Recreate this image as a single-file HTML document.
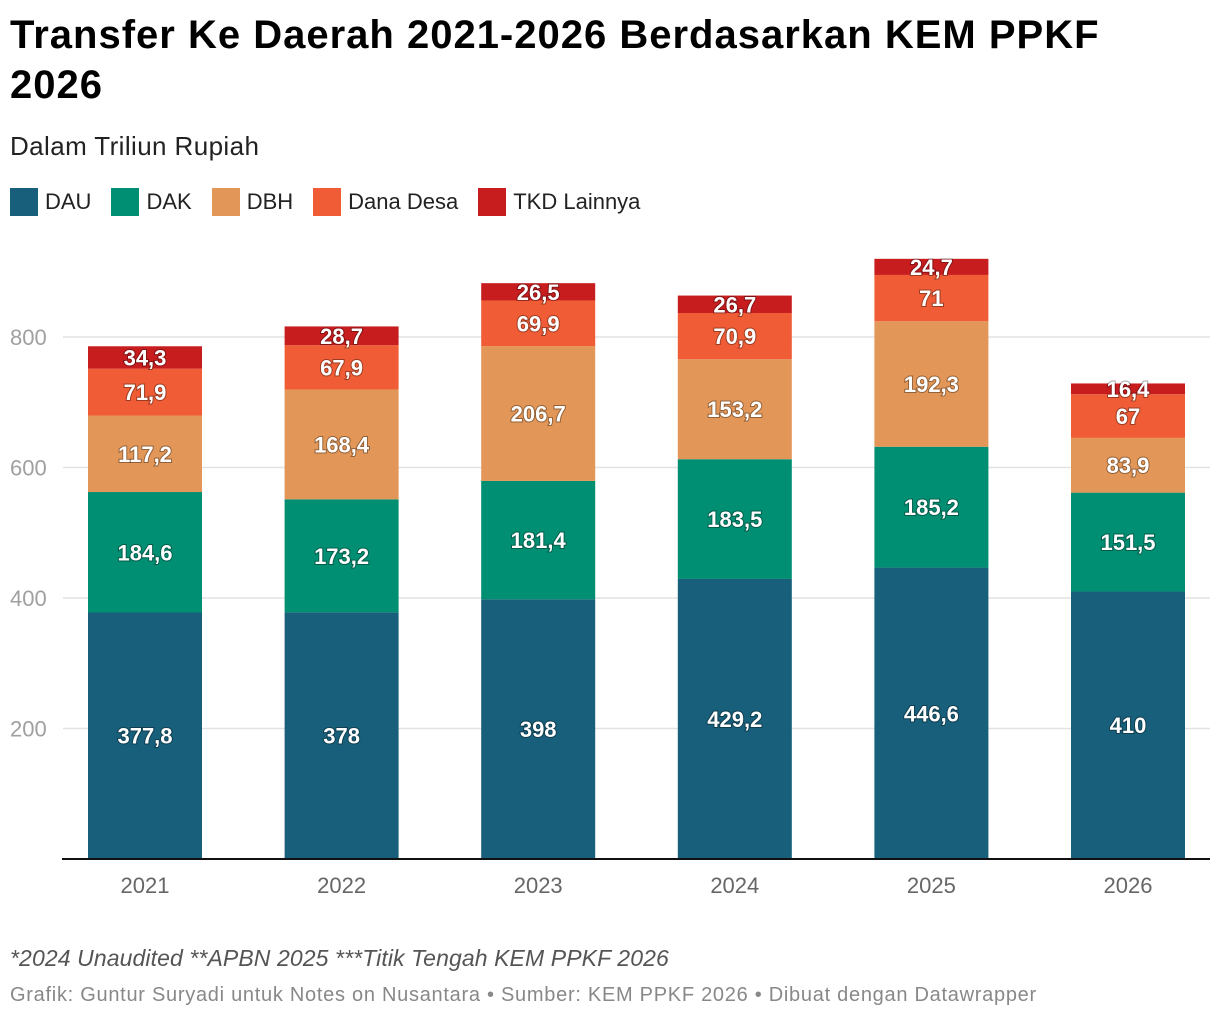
<!DOCTYPE html>
<html><head><meta charset="utf-8">
<style>
body{margin:0;width:1220px;height:1020px;background:#fff;font-family:"Liberation Sans",sans-serif;overflow:hidden;position:relative}
#title{position:absolute;left:10px;top:10px;font-size:40px;font-weight:bold;line-height:50px;color:#000;width:1130px;letter-spacing:1px}
#sub{position:absolute;left:10px;top:131px;font-size:26px;color:#222;letter-spacing:0.4px}
#legend{position:absolute;left:10px;top:188px;display:flex;font-size:22px;color:#222}
.li{display:flex;align-items:center;margin-right:20px}
.sw{width:28px;height:28px;margin-right:7px}
#note{position:absolute;left:10px;top:945px;font-size:23px;font-style:italic;color:#555;letter-spacing:0.1px}
#src{position:absolute;left:10px;top:984px;font-size:20px;color:#888;letter-spacing:0.72px}
svg{position:absolute;left:0;top:0}
</style></head><body>
<div id="title">Transfer Ke Daerah 2021-2026 Berdasarkan KEM PPKF 2026</div>
<div id="sub">Dalam Triliun Rupiah</div>
<div id="legend">
<div class="li"><div class="sw" style="background:#175f7a"></div>DAU</div>
<div class="li"><div class="sw" style="background:#008f72"></div>DAK</div>
<div class="li"><div class="sw" style="background:#e29657"></div>DBH</div>
<div class="li"><div class="sw" style="background:#ef5c35"></div>Dana Desa</div>
<div class="li"><div class="sw" style="background:#c81d1f"></div>TKD Lainnya</div>
</div>
<svg id="chart" width="1220" height="1020"></svg>
<div id="note">*2024 Unaudited **APBN 2025 ***Titik Tengah KEM PPKF 2026</div>
<div id="src">Grafik: Guntur Suryadi untuk Notes on Nusantara • Sumber: KEM PPKF 2026 • Dibuat dengan Datawrapper</div>
<script>
const years=["2021","2022","2023","2024","2025","2026"];
const DAU=[377.8,378,398,429.2,446.6,410];
const DAK=[184.6,173.2,181.4,183.5,185.2,151.5];
const DBH=[117.2,168.4,206.7,153.2,192.3,83.9];
const DanaDesa=[71.9,67.9,69.9,70.9,71,67];
const TKD=[34.3,28.7,26.5,26.7,24.7,16.4];
const yTicks=[200,400,600,800];
const series=[["dau",DAU,"#175f7a"],["dak",DAK,"#008f72"],["dbh",DBH,"#e29657"],["dana-desa",DanaDesa,"#ef5c35"],["tkd-lainnya",TKD,"#c81d1f"]];
const ns="http://www.w3.org/2000/svg";
const svg=document.getElementById("chart");
const y=v=>859-v*130.5/200;
const xc=i=>145+i*196.6;
const bw=114;
function mk(t,a){const e=document.createElementNS(ns,t);for(const k in a)e.setAttribute(k,a[k]);svg.appendChild(e);return e;}
yTicks.forEach(t=>{
  const g=mk("line",{x1:63,x2:1210,y1:y(t),y2:y(t),stroke:"#e2e2e2","stroke-width":1.5});
  
  
  const l=mk("text",{x:10,y:y(t)+8,"font-size":22,fill:"#a0a0a0"});
  l.textContent=t;
  
  
});
years.forEach((yr,i)=>{
  let base=0;
  series.forEach(([nm,arr,col])=>{
    const v=arr[i];
    const r=mk("rect",{x:xc(i)-bw/2,y:y(base+v),width:bw,height:y(base)-y(base+v),fill:col});
    
    
    const t=mk("text",{x:xc(i),y:(y(base)+y(base+v))/2+8,"text-anchor":"middle","font-size":22,"font-weight":"bold",fill:"#fff",style:"paint-order:stroke;stroke:rgba(0,0,0,0.35);stroke-width:2px"});
    t.textContent=String(v).replace(".",",");
    
    
    base+=v;
  });
  const xl=mk("text",{x:xc(i),y:893,"text-anchor":"middle","font-size":22,fill:"#666"});
  xl.textContent=yr;
  
  
});
const ax=mk("line",{x1:62,x2:1210,y1:859,y2:859,stroke:"#111","stroke-width":2});


</script>
</body></html>
